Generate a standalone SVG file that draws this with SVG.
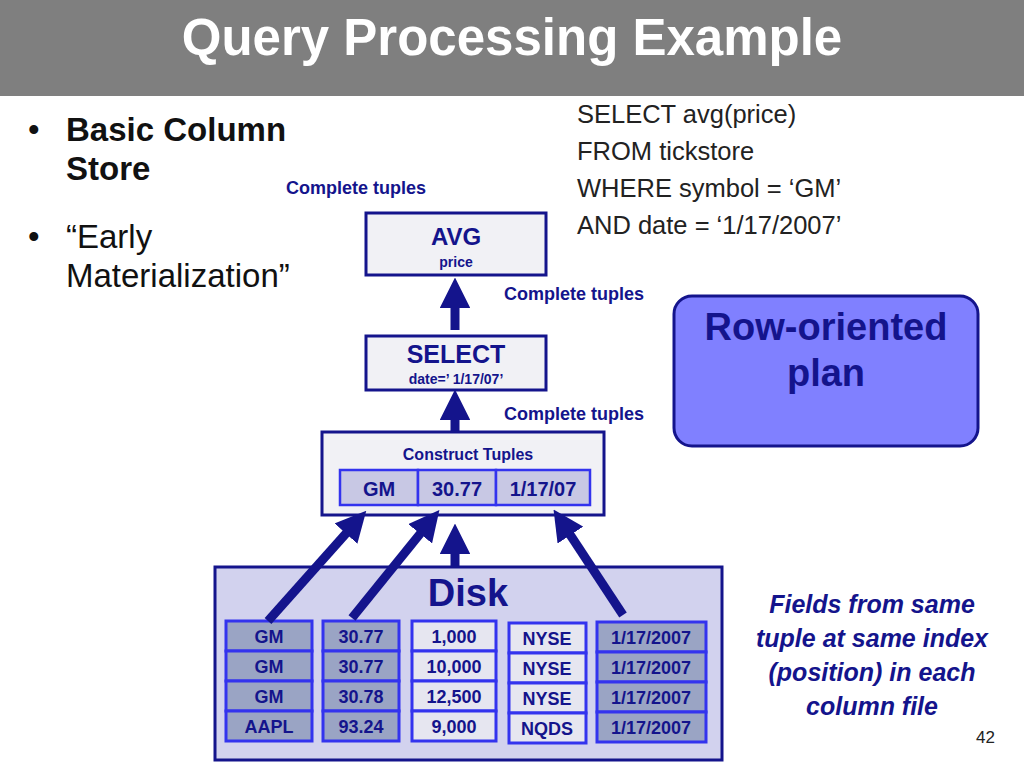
<svg xmlns="http://www.w3.org/2000/svg" width="1024" height="768" viewBox="0 0 1024 768">
<defs>
<marker id="ah" viewBox="0 0 10 10" refX="2" refY="5" markerWidth="3.4" markerHeight="3.4" orient="auto" markerUnits="strokeWidth"><path d="M0,0 L10,5 L0,10 z" fill="#14148c"/></marker>
</defs>
<style>
text{font-family:"Liberation Sans",Arial,sans-serif}
.op{fill:#f1f1f5;stroke:#14148c;stroke-width:3}
.dk{fill:#9aa4c4;stroke:#3333ee;stroke-width:3}
.lt{fill:#e6e6f0;stroke:#3333ee;stroke-width:3}
.ct{fill:#c8c8e4;stroke:#3333ee;stroke-width:2.5}
.c{font-size:20px;font-weight:bold;fill:#14148c;text-anchor:middle}
.k{stroke:#14148c;stroke-width:9;fill:none;marker-end:url(#ah)}
.t{font-size:25.5px;fill:#222}
</style>
<rect width="1024" height="768" fill="#fff"/>
<rect width="1024" height="96" fill="#7f7f7f"/>
<text x="512" y="55" font-size="51" font-weight="bold" fill="#fff" text-anchor="middle">Query Processing Example</text>
<g id="bullets">
<text x="28" y="141" font-size="33" fill="#111">•</text>
<text x="66" y="141" font-size="33" font-weight="bold" fill="#111">Basic Column</text>
<text x="66" y="180" font-size="33" font-weight="bold" fill="#111">Store</text>
<text x="28" y="248" font-size="33" fill="#111">•</text>
<text x="66" y="248" font-size="33" fill="#111">“Early</text>
<text x="66" y="287" font-size="33" fill="#111">Materialization”</text>
</g>
<g id="sql">
<text x="577" y="123" class="t">SELECT avg(price)</text>
<text x="577" y="160" class="t">FROM tickstore</text>
<text x="577" y="197" class="t">WHERE symbol = ‘GM’</text>
<text x="577" y="234" class="t">AND date = ‘1/17/2007’</text>
</g>
<text x="356" y="194" class="c" style="font-size:18px">Complete tuples</text>
<text x="574" y="300" class="c" style="font-size:18px">Complete tuples</text>
<text x="574" y="420" class="c" style="font-size:18px">Complete tuples</text>
<g id="avg"><rect x="366" y="213" width="180" height="62" class="op"/><text x="456" y="245" class="c" style="font-size:24px">AVG</text><text x="456" y="267" class="c" style="font-size:14px">price</text></g>
<g id="select"><rect x="366" y="336" width="180" height="54" class="op"/><text x="456" y="363" class="c" style="font-size:25px">SELECT</text><text x="456" y="384" class="c" style="font-size:14px">date=’ 1/17/07’</text></g>
<g id="construct"><rect x="322" y="432" width="282" height="83" class="op"/><text x="468" y="460" class="c" style="font-size:16px">Construct Tuples</text>
<rect x="340" y="470" width="78" height="35" class="ct"/><rect x="418" y="470" width="78" height="35" class="ct"/><rect x="496" y="470" width="94" height="35" class="ct"/>
<text x="379" y="496" class="c">GM</text><text x="457" y="496" class="c">30.77</text><text x="543" y="496" class="c">1/17/07</text></g>
<g id="plan"><rect x="674" y="296" width="304" height="150" rx="18" fill="#8080ff" stroke="#14148c" stroke-width="3"/><text x="826" y="340" class="c" style="font-size:38px">Row-oriented</text><text x="826" y="386" class="c" style="font-size:38px">plan</text></g>
<g id="disk"><rect x="215" y="567" width="507" height="193" fill="#d2d2ee" stroke="#14148c" stroke-width="3"/>
<text x="468" y="606" class="c" style="font-size:38px">Disk</text>
<g class="dk"><rect x="226" y="621" width="86" height="30"/><rect x="226" y="651" width="86" height="30"/><rect x="226" y="681" width="86" height="30"/><rect x="226" y="711" width="86" height="30"/>
<rect x="323" y="621" width="76" height="30"/><rect x="323" y="651" width="76" height="30"/><rect x="323" y="681" width="76" height="30"/><rect x="323" y="711" width="76" height="30"/>
<rect x="597" y="622" width="109" height="30"/><rect x="597" y="652" width="109" height="30"/><rect x="597" y="682" width="109" height="30"/><rect x="597" y="712" width="109" height="30"/></g>
<g class="lt"><rect x="412" y="621" width="84" height="30"/><rect x="412" y="651" width="84" height="30"/><rect x="412" y="681" width="84" height="30"/><rect x="412" y="711" width="84" height="30"/>
<rect x="509" y="623" width="77" height="30"/><rect x="509" y="653" width="77" height="30"/><rect x="509" y="683" width="77" height="30"/><rect x="509" y="713" width="77" height="30"/></g>
<text x="269" y="643" class="c" style="font-size:18px">GM</text><text x="269" y="673" class="c" style="font-size:18px">GM</text><text x="269" y="703" class="c" style="font-size:18px">GM</text><text x="269" y="733" class="c" style="font-size:18px">AAPL</text>
<text x="361" y="643" class="c" style="font-size:18px">30.77</text><text x="361" y="673" class="c" style="font-size:18px">30.77</text><text x="361" y="703" class="c" style="font-size:18px">30.78</text><text x="361" y="733" class="c" style="font-size:18px">93.24</text>
<text x="454" y="643" class="c" style="font-size:18px">1,000</text><text x="454" y="673" class="c" style="font-size:18px">10,000</text><text x="454" y="703" class="c" style="font-size:18px">12,500</text><text x="454" y="733" class="c" style="font-size:18px">9,000</text>
<text x="547" y="645" class="c" style="font-size:18px">NYSE</text><text x="547" y="675" class="c" style="font-size:18px">NYSE</text><text x="547" y="705" class="c" style="font-size:18px">NYSE</text><text x="547" y="735" class="c" style="font-size:18px">NQDS</text>
<text x="651" y="644" class="c" style="font-size:18px">1/17/2007</text><text x="651" y="674" class="c" style="font-size:18px">1/17/2007</text><text x="651" y="704" class="c" style="font-size:18px">1/17/2007</text><text x="651" y="734" class="c" style="font-size:18px">1/17/2007</text>
</g>
<g id="note" font-style="italic">
<text x="872" y="613" class="c" style="font-size:25px">Fields from same</text>
<text x="872" y="647" class="c" style="font-size:25px">tuple at same index</text>
<text x="872" y="681" class="c" style="font-size:25px">(position) in each</text>
<text x="872" y="715" class="c" style="font-size:25px">column file</text>
</g>
<text x="995" y="743" font-size="17" fill="#222" text-anchor="end">42</text>
<g id="connectors">
<line x1="455" y1="330" x2="455" y2="302" class="k"/>
<line x1="455" y1="431" x2="455" y2="414" class="k"/>
<line x1="455" y1="566" x2="455" y2="548" class="k"/>
<line x1="268" y1="621" x2="350" y2="529" class="k"/>
<line x1="352" y1="618" x2="424" y2="529" class="k"/>
<line x1="623" y1="615" x2="567" y2="530" class="k"/>
</g>
</svg>
